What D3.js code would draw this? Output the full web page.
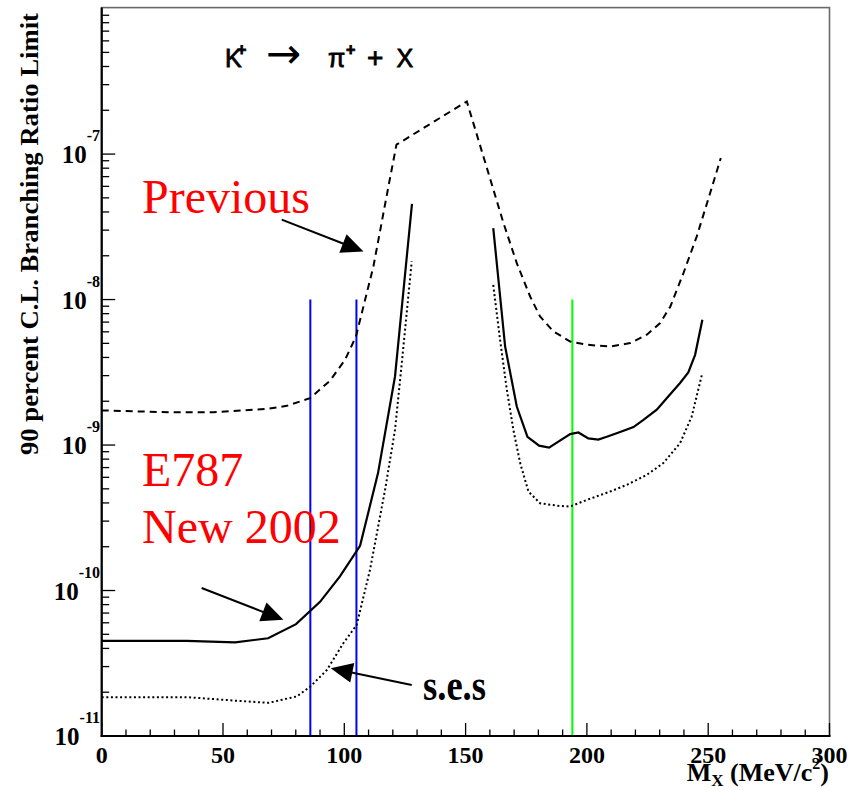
<!DOCTYPE html>
<html>
<head>
<meta charset="utf-8">
<script src="https://cdn.jsdelivr.net/npm/d3@7"></script>
<style>
  html, body { margin: 0; padding: 0; background: #fff; }
  svg { display: block; }
</style>
</head>
<body>
<div id="chart"></div>
<script>
// ---------------- DATA ----------------
const xTickValues = [0, 50, 100, 150, 200, 250, 300];
const yTickExponents = [-11, -10, -9, -8, -7];

// "Previous" limit (dashed)
const prevX = [0, 28.2, 46.0, 68.0, 76.3, 85.9, 94.1, 100.3, 104.8, 112.0, 118.2, 121.5, 150.5, 165.6, 171.1, 176.6, 180.7, 186.2, 193.1, 200.0, 209.6, 217.8, 224.7, 230.2, 234.4, 239.8, 245.3, 250.8, 255.2];
const prevY = [1.73e-9, 1.68e-9, 1.68e-9, 1.77e-9, 1.86e-9, 2.10e-9, 2.77e-9, 3.85e-9, 5.57e-9, 1.69e-8, 6.0e-8, 1.16e-7, 2.30e-7, 3.36e-8, 1.78e-8, 1.05e-8, 7.65e-9, 6.04e-9, 5.15e-9, 4.89e-9, 4.75e-9, 5.02e-9, 5.73e-9, 6.89e-9, 8.97e-9, 1.52e-8, 2.72e-8, 5.40e-8, 9.40e-8];

// E787 new 2002 limit (solid), two segments
const limitLowX = [0, 35, 55, 68.6, 80.1, 90, 98.2, 106.5, 113.9, 120.9, 127.9];
const limitLowY = [4.5e-11, 4.5e-11, 4.4e-11, 4.7e-11, 5.87e-11, 8.36e-11, 1.25e-10, 2.03e-10, 6.41e-10, 2.96e-9, 4.54e-8];
const limitHighX = [161.4, 166.3, 171.1, 175.5, 180.3, 184.4, 193.1, 196.5, 200.6, 204.7, 208.2, 213.7, 219.2, 223.3, 228.8, 232.9, 238.4, 241.8, 244.6, 247.6];
const limitHighY = [3.10e-8, 4.75e-9, 1.84e-9, 1.14e-9, 9.9e-10, 9.6e-10, 1.19e-9, 1.22e-9, 1.11e-9, 1.09e-9, 1.14e-9, 1.23e-9, 1.33e-9, 1.49e-9, 1.75e-9, 2.10e-9, 2.67e-9, 3.16e-9, 4.17e-9, 7.26e-9];

// single event sensitivity (dotted), two segments
const sesLowX = [0, 35, 55, 68.7, 80.4, 85.9, 92.8, 99.6, 105.1, 110.6, 116.8, 120.9, 123.7, 127.8];
const sesLowY = [1.85e-11, 1.85e-11, 1.75e-11, 1.69e-11, 1.87e-11, 2.18e-11, 2.84e-11, 4.34e-11, 5.80e-11, 1.39e-10, 4.92e-10, 1.27e-9, 3.66e-9, 1.83e-8];
const sesHighX = [161.4, 164.2, 167.0, 169.7, 172.5, 175.9, 180.7, 188.2, 193.1, 200.0, 209.6, 216.4, 224.7, 231.5, 238.4, 243.2, 247.4];
const sesHighY = [1.26e-8, 5.30e-9, 2.40e-9, 1.27e-9, 7.51e-10, 4.79e-10, 3.98e-10, 3.82e-10, 3.78e-10, 4.20e-10, 4.79e-10, 5.32e-10, 6.24e-10, 7.51e-10, 1.03e-9, 1.57e-9, 3.04e-9];

// vertical marker lines
const blueLineX = [86, 105];
const greenLineX = [194];
const markerTop = 1e-8;

// annotation arrows: [x1, y1, x2(tip), y2(tip)]
const arrowPrevious = [74.2, 3.54e-8, 107.9, 2.14e-8];
const arrowE787 = [41.2, 1.04e-10, 74.9, 6.29e-11];
const arrowSes = [127.8, 2.24e-11, 94.4, 2.92e-11];

// ---------------- CHART ----------------
(function () {
const W = 859, H = 790;
const pL = 101.7, pR = 829.5, pT = 8.6, pB = 736;

const svg = d3.select("#chart").append("svg").attr("width", W).attr("height", H);

const x = d3.scaleLinear().domain([0, 300]).range([pL, pR]);
const y = d3.scaleLog().domain([1e-11, 1e-6]).range([pB, pT]);

// frame
svg.append("rect").attr("x", pL).attr("y", pT - 1).attr("width", pR - pL).attr("height", pB - pT + 1)
  .attr("fill", "none").attr("stroke", "#6a6a6a").attr("stroke-width", 1.6);

const line = d3.line().x(d => x(d[0])).y(d => y(d[1]));
const zip = (a, b) => a.map((v, i) => [v, b[i]]);

// vertical lines
const vlines = svg.append("g");
blueLineX.forEach(v => vlines.append("line").attr("x1", x(v)).attr("x2", x(v)).attr("y1", y(markerTop)).attr("y2", pB)
  .attr("stroke", "#0000ff").attr("stroke-width", 2));
greenLineX.forEach(v => vlines.append("line").attr("x1", x(v)).attr("x2", x(v)).attr("y1", y(markerTop)).attr("y2", pB)
  .attr("stroke", "#00ff00").attr("stroke-width", 2));

// curves
svg.append("path").attr("d", line(zip(prevX, prevY))).attr("fill", "none").attr("stroke", "#000")
  .attr("stroke-width", 2).attr("stroke-dasharray", "7,5");
[zip(limitLowX, limitLowY), zip(limitHighX, limitHighY)].forEach(seg =>
  svg.append("path").attr("d", line(seg)).attr("fill", "none").attr("stroke", "#000").attr("stroke-width", 2.2));
[zip(sesLowX, sesLowY), zip(sesHighX, sesHighY)].forEach(seg =>
  svg.append("path").attr("d", line(seg)).attr("fill", "none").attr("stroke", "#000")
    .attr("stroke-width", 2).attr("stroke-dasharray", "2,2.6"));

// axes lines
svg.append("line").attr("x1", pL).attr("x2", pL).attr("y1", pT - 1).attr("y2", pB + 1).attr("stroke", "#000").attr("stroke-width", 2.2);
svg.append("line").attr("x1", pL - 1).attr("x2", pR + 1).attr("y1", pB).attr("y2", pB).attr("stroke", "#000").attr("stroke-width", 2.2);

// x ticks
const xt = svg.append("g");
d3.range(0, 301, 10).forEach(v => {
  const major = v % 50 === 0;
  xt.append("line").attr("x1", x(v)).attr("x2", x(v)).attr("y1", pB).attr("y2", pB - (major ? 13 : 6.5))
    .attr("stroke", "#000").attr("stroke-width", 1.3);
});
xTickValues.forEach(v => {
  xt.append("text").attr("x", x(v)).attr("y", 763).attr("text-anchor", "middle")
    .attr("font-family", "Liberation Serif, Times New Roman, serif").attr("font-weight", "bold").attr("font-size", 24)
    .text(v);
});

// y ticks
const yt = svg.append("g");
for (let e = -11; e <= -7; e++) {
  for (let m = 1; m <= 9; m++) {
    const v = m * Math.pow(10, e);
    const yy = y(v);
    yt.append("line").attr("x1", pL).attr("x2", pL + (m === 1 ? 13.5 : 7.5)).attr("y1", yy).attr("y2", yy)
      .attr("stroke", "#000").attr("stroke-width", 1.3);
  }
}
yTickExponents.forEach(e => {
  const yy = y(Math.pow(10, e));
  const t = yt.append("text").attr("x", 100).attr("y", yy + 9).attr("text-anchor", "end")
    .attr("font-family", "Liberation Serif, Times New Roman, serif").attr("font-weight", "bold");
  t.append("tspan").attr("font-size", 25).text("10");
  t.append("tspan").attr("font-size", 16).attr("dy", -22).text(String(e));
});

// axis titles
svg.append("text").attr("transform", "translate(38,234) rotate(-90)").attr("text-anchor", "middle")
  .attr("font-family", "Liberation Serif, Times New Roman, serif").attr("font-weight", "bold").attr("font-size", 25)
  .attr("textLength", 442).attr("lengthAdjust", "spacingAndGlyphs")
  .text("90 percent C.L. Branching Ratio Limit");

const xl = svg.append("text").attr("x", 829).attr("y", 781).attr("text-anchor", "end")
  .attr("font-family", "Liberation Serif, Times New Roman, serif").attr("font-weight", "bold").attr("font-size", 26);
xl.append("tspan").text("M");
xl.append("tspan").attr("font-size", 17).attr("dy", 5).text("X");
xl.append("tspan").attr("dy", -5).text(" (MeV/c");
xl.append("tspan").attr("font-size", 16).attr("dy", -12).text("2");
xl.append("tspan").attr("dy", 12).text(")");

// title K+ -> pi+ + X
const tt = svg.append("text").attr("font-family", "Liberation Sans, Arial, sans-serif").attr("fill", "#000")
  .attr("stroke", "#000").attr("stroke-width", 0.8);
tt.append("tspan").attr("x", 225).attr("y", 66.7).attr("font-size", 25).text("K");
tt.append("tspan").attr("x", 237).attr("y", 55).attr("font-size", 16).attr("font-weight", "bold").text("+");
tt.append("tspan").attr("x", 266).attr("y", 68).attr("font-size", 42).attr("stroke-width", 0)
  .attr("font-family", "DejaVu Sans, sans-serif").text("\u2192");
tt.append("tspan").attr("x", 328).attr("y", 66.7).attr("font-size", 25).text("\u03c0");
tt.append("tspan").attr("x", 346).attr("y", 55).attr("font-size", 16).attr("font-weight", "bold").text("+");
tt.append("tspan").attr("x", 367).attr("y", 66.7).attr("font-size", 28).text("+");
tt.append("tspan").attr("x", 396.5).attr("y", 66.7).attr("font-size", 25).text("X");

// red labels
const red = svg.append("g").attr("fill", "#ff0000").attr("font-family", "Liberation Serif, Times New Roman, serif").attr("font-size", 48);
red.append("text").attr("x", 142).attr("y", 213).text("Previous");
red.append("text").attr("x", 142).attr("y", 486).text("E787");
red.append("text").attr("x", 142).attr("y", 543).text("New 2002");

// s.e.s label
svg.append("text").attr("x", 423).attr("y", 699.5).attr("font-family", "Liberation Serif, Times New Roman, serif")
  .attr("font-weight", "bold").attr("font-size", 44).attr("textLength", 63).attr("lengthAdjust", "spacingAndGlyphs")
  .text("s.e.s");

// arrows
function drawArrow(a) {
  const x1 = x(a[0]), y1 = y(a[1]), x2 = x(a[2]), y2 = y(a[3]);
  const dx = x2 - x1, dy = y2 - y1, L = Math.hypot(dx, dy);
  const ux = dx / L, uy = dy / L;
  const hl = 22, hw = 10;
  const bx = x2 - ux * hl, by = y2 - uy * hl;
  svg.append("line").attr("x1", x1).attr("y1", y1).attr("x2", bx + ux * 2).attr("y2", by + uy * 2)
    .attr("stroke", "#000").attr("stroke-width", 2);
  svg.append("path").attr("d", `M${x2},${y2}L${bx - uy * hw},${by + ux * hw}L${bx + uy * hw},${by - ux * hw}Z`)
    .attr("fill", "#000");
}
[arrowPrevious, arrowE787, arrowSes].forEach(drawArrow);
})();
</script>
</body>
</html>
